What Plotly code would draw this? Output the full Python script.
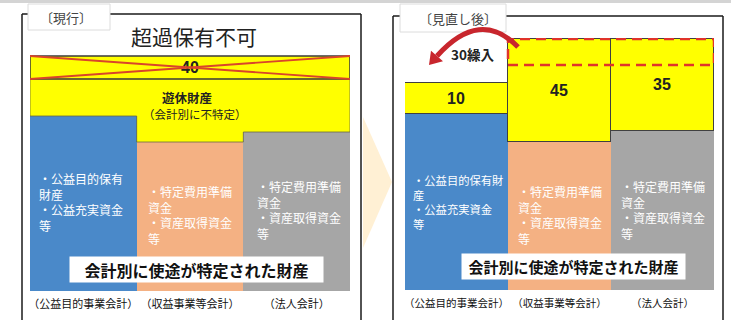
import plotly.graph_objects as go
import math

# ---------------- data ----------------
accounts = ["（公益目的事業会計）", "（収益事業等会計）", "（法人会計）"]
block_colors = ["#4A89C9", "#F4B183", "#A6A6A6"]

# schematic block heights (current system)
cur_specified = [175, 149, 159]
cur_idle = [37, 63, 53]
cur_excess = [23, 23, 23]
cur_excess_labels = ["", "40", ""]

# schematic block heights (after revision)
new_specified = [176, 148, 159]
new_idle = [31, 103, 92]
new_idle_labels = ["10", "45", "35"]
transfer_height = 26
transfer_label = "30繰入"

cur_texts = [
    ["・公益目的保有", "財産", "・公益充実資金", "等"],
    ["・特定費用準備", "資金", "・資産取得資金", "等"],
    ["・特定費用準備", "資金", "・資産取得資金", "等"],
]
new_texts = [
    ["・公益目的保有財", "産", "・公益充実資金", "等"],
    ["・特定費用準備", "資金", "・資産取得資金", "等"],
    ["・特定費用準備", "資金", "・資産取得資金", "等"],
]
specified_label = "会計別に使途が特定された財産"
idle_title = "遊休財産"
idle_sub = "（会計別に不特定）"
excess_note = "超過保有不可"
tab_cur = "〔現行〕"
tab_new = "〔見直し後〕"

JP = "Noto Sans CJK JP"
NUM = "Liberation Sans, Arial, sans-serif"
W, H = 731, 320
YEL = "#FFFF00"

fig = go.Figure()
cats = [0, 1, 2]

# left panel
fig.add_trace(go.Bar(x=cats, y=cur_specified, marker=dict(color=block_colors, line=dict(width=0)),
                     xaxis="x", yaxis="y", showlegend=False, hoverinfo="skip"))
fig.add_trace(go.Bar(x=cats, y=cur_idle, marker=dict(color=YEL, line=dict(width=0)),
                     xaxis="x", yaxis="y", showlegend=False, hoverinfo="skip"))
fig.add_trace(go.Bar(x=cats, y=cur_excess, marker=dict(color=YEL, line=dict(width=0)),
                     text=["<b>%s</b>" % t if t else "" for t in cur_excess_labels],
                     textposition="inside", insidetextanchor="middle", textangle=0,
                     constraintext="none",
                     textfont=dict(family=NUM, size=16, color="#222"),
                     xaxis="x", yaxis="y", showlegend=False, hoverinfo="skip"))
# right panel
fig.add_trace(go.Bar(x=cats, y=new_specified, marker=dict(color=block_colors, line=dict(width=0)),
                     xaxis="x2", yaxis="y2", showlegend=False, hoverinfo="skip"))
fig.add_trace(go.Bar(x=cats, y=new_idle, marker=dict(color=YEL, line=dict(width=1, color="#404040")),
                     text=["<b>%s</b>" % t for t in new_idle_labels],
                     textposition="inside", insidetextanchor="middle", textangle=0,
                     constraintext="none",
                     textfont=dict(family=NUM, size=16, color="#222"),
                     xaxis="x2", yaxis="y2", showlegend=False, hoverinfo="skip"))

def px(v):
    return v / W

def pyb(v):  # pixel from top -> paper from bottom
    return (H - v) / H

YR = 252
xa = dict(type="linear", range=[-0.5, 2.5], tickmode="array", tickvals=cats, ticktext=accounts,
          showgrid=False, zeroline=False, showline=False, ticks="", ticklabelstandoff=5,
          tickangle=0, automargin=False, fixedrange=True)
fig.update_layout(
    width=W, height=H, margin=dict(l=0, r=0, t=0, b=0, autoexpand=False),
    paper_bgcolor="white", plot_bgcolor="rgba(0,0,0,0)",
    barmode="stack", bargap=0,
    xaxis=dict(xa, domain=[px(30), px(350)], anchor="y", tickfont=dict(family=JP, size=11, color="#111")),
    yaxis=dict(domain=[pyb(291), pyb(291 - YR)], range=[0, YR], visible=False, anchor="x", fixedrange=True),
    xaxis2=dict(xa, domain=[px(405), px(714)], anchor="y2", tickfont=dict(family=JP, size=10.5, color="#111")),
    yaxis2=dict(domain=[pyb(290), pyb(290 - YR)], range=[0, YR], visible=False, anchor="x2", fixedrange=True),
    xaxis3=dict(domain=[0, 1], range=[0, W], visible=False, anchor="y3", fixedrange=True),
    yaxis3=dict(domain=[0, 1], range=[H, 0], visible=False, anchor="x3", fixedrange=True),
)
# invisible trace for overlay axes
fig.add_trace(go.Scatter(x=[0], y=[0], xaxis="x3", yaxis="y3", mode="markers",
                         marker=dict(opacity=0), showlegend=False, hoverinfo="skip"))

P = dict(xref="x3", yref="y3")
shapes = []
shapes.append(dict(type="line", x0=0, x1=W, y0=1.5, y1=1.5, line=dict(color="#d4d4d4", width=3), **P))
shapes.append(dict(type="path", path="M 363,117 L 392,182 L 363,248 Z", fillcolor="#FFF0D4",
                   line=dict(width=0), layer="below", **P))
fl = dict(color="#1a1a1a", width=1.5)
shapes += [
    dict(type="line", x0=22, x1=361, y0=14, y1=14, line=fl, **P),
    dict(type="line", x0=22, x1=22, y0=14, y1=320, line=fl, **P),
    dict(type="line", x0=361, x1=361, y0=14, y1=320, line=fl, **P),
    dict(type="line", x0=393, x1=723, y0=16, y1=16, line=fl, **P),
    dict(type="line", x0=393, x1=393, y0=16, y1=320, line=fl, **P),
    dict(type="line", x0=723, x1=723, y0=16, y1=320, line=fl, **P),
]
shapes.append(dict(type="rect", x0=28, x1=110, y0=4, y1=30, fillcolor="white",
                   line=dict(color="#dcdcdc", width=1), **P))
shapes.append(dict(type="rect", x0=400, x1=506, y0=4, y1=32, fillcolor="white",
                   line=dict(color="#dcdcdc", width=1), **P))

# thin outline around the left idle-property (yellow) region, derived from data
top_base = cur_specified[0] + cur_idle[0]
lb = cur_specified
pts = [(-0.5, top_base), (-0.5, lb[0]), (0.5, lb[0]), (0.5, lb[1]), (1.5, lb[1]),
       (1.5, lb[2]), (2.5, lb[2]), (2.5, top_base)]
shapes.append(dict(type="path", xref="x", yref="y",
                   path="M " + " L ".join(f"{a},{b}" for a, b in pts),
                   line=dict(color="#6b6b40", width=0.8)))

# crossed excess box (left), derived from data
ex_top = top_base + cur_excess[0]
shapes.append(dict(type="rect", xref="x", yref="y", x0=-0.5, x1=2.5, y0=top_base, y1=ex_top,
                   line=dict(color="#3a3a3a", width=1.5)))
shapes.append(dict(type="line", xref="x", yref="y", x0=-0.5, x1=2.5, y0=ex_top, y1=top_base,
                   line=dict(color="#D9452B", width=1.8)))
shapes.append(dict(type="line", xref="x", yref="y", x0=-0.5, x1=2.5, y0=top_base, y1=ex_top,
                   line=dict(color="#D9452B", width=1.8)))

# dashed transfer box (right), derived from data
r_top = new_specified[1] + new_idle[1]
shapes.append(dict(type="rect", xref="x2", yref="y2", x0=0.5, x1=2.5, y0=r_top - transfer_height, y1=r_top,
                   line=dict(color="#E0342A", width=2.5, dash="10px,6px")))

# curved arrow
sx, sy, cx, cy, ex, ey = 518, 47, 480, 8, 437, 56
shapes.append(dict(type="path", path=f"M {sx},{sy} Q {cx},{cy} {ex},{ey}",
                   line=dict(color="#C8262D", width=5), **P))
dx, dy = ex - cx, ey - cy
L = math.hypot(dx, dy)
ux, uy = dx / L, dy / L
tipx, tipy = ex + 12 * ux, ey + 12 * uy
b1 = (ex + 8 * uy, ey - 8 * ux)
b2 = (ex - 8 * uy, ey + 8 * ux)
shapes.append(dict(type="path", path=f"M {b1[0]:.1f},{b1[1]:.1f} L {tipx:.1f},{tipy:.1f} L {b2[0]:.1f},{b2[1]:.1f} Z",
                   fillcolor="#C8262D", line=dict(width=0), **P))

ann = []
def A(x, y, text, size, color="#222", **kw):
    d = dict(x=x, y=y, text=text, showarrow=False, font=dict(family=JP, size=size, color=color), **P)
    d.update(kw)
    ann.append(d)

A(66, 17, tab_cur, 13, "#444")
A(458, 18, tab_new, 13, "#444")
A(194, 36, excess_note, 21, "#222")
A(187, 97, "<b>%s</b>" % idle_title, 12.5, "#222")
A(195, 114, idle_sub, 11.5, "#222")
A(472, 54, "<b>%s</b>" % transfer_label, 13.5, "#222")

A(196.5, 269.5, "<b>%s</b>" % specified_label, 16, "#111", bgcolor="white", width=253, height=25, borderpad=0)
A(573.5, 266.5, "<b>%s</b>" % specified_label, 15, "#111", bgcolor="white", width=223, height=25, borderpad=0)

for (lx, cy_), lines in zip([(37, 202), (146, 215), (255, 209.5)], cur_texts):
    A(lx, cy_, "<br>".join(lines), 12, "white", xanchor="left", align="left")
for (lx, cy_, fs), lines in zip([(411, 202, 11.3), (516, 215, 12), (619, 209.5, 12)], new_texts):
    A(lx, cy_, "<br>".join(lines), fs, "white", xanchor="left", align="left")

fig.update_layout(shapes=shapes, annotations=ann)
fig.write_html("out.html")
